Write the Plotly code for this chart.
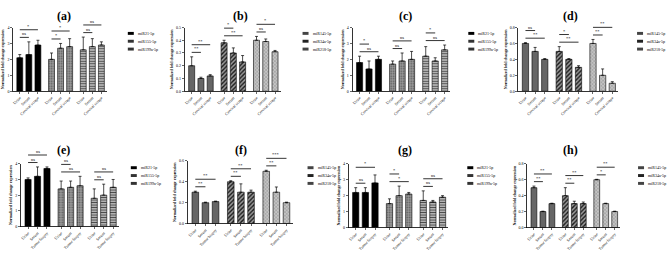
import plotly.graph_objects as go

W, H = 669, 255

# ---------------- data ----------------
mir_set_a = ["miR21-5p", "miR155-5p", "miR199a-5p"]
mir_set_b = ["miR145-5p", "miR34a-5p", "miR218-5p"]
samples_row1 = ["Urine", "Serum", "Cervical scrape"]
samples_row2 = ["Urine", "Serum", "Tumor biopsy"]

a_mean = [[2.1, 2.3, 2.9], [2.0, 2.7, 2.8], [2.6, 2.8, 2.9]]
a_err = [[0.2, 0.8, 0.3], [0.4, 0.3, 0.5], [0.8, 0.5, 0.2]]
a_sig = [[(0, 1, "ns"), (0, 2, "*")], [(0, 1, "*"), (0, 2, "*")], [(0, 1, "ns"), (0, 2, "ns")]]

b_mean = [[0.20, 0.10, 0.12], [0.38, 0.30, 0.23], [0.40, 0.39, 0.31]]
b_err = [[0.07, 0.01, 0.01], [0.02, 0.04, 0.05], [0.03, 0.02, 0.01]]
b_sig = [[(0, 1, "**"), (0, 2, "**")], [(0, 2, "**"), (0, 1, "*")], [(0, 1, "ns"), (0, 2, "*")]]

c_mean = [[1.8, 1.4, 2.0], [1.7, 1.9, 2.0], [2.2, 1.9, 2.6]]
c_err = [[0.4, 0.5, 0.2], [0.2, 0.5, 0.5], [0.6, 0.2, 0.3]]
c_sig = [[(0, 2, "ns"), (0, 1, "*")], [(0, 1, "ns"), (0, 2, "ns")], [(0, 2, "ns"), (0, 1, "*")]]

d_mean = [[0.60, 0.50, 0.40], [0.50, 0.40, 0.30], [0.60, 0.20, 0.10]]
d_err = [[0.01, 0.05, 0.01], [0.06, 0.01, 0.02], [0.05, 0.08, 0.02]]
d_sig = [[(0, 2, "**"), (0, 1, "ns")], [(0, 2, "**"), (0, 1, "*")], [(0, 1, "**"), (0, 2, "**")]]

e_mean = [[3.0, 3.2, 3.7], [2.4, 2.5, 2.6], [1.8, 2.0, 2.5]]
e_err = [[0.1, 0.6, 0.1], [0.5, 0.4, 0.6], [0.6, 0.7, 0.5]]
e_sig = [[(0, 1, "ns"), (0, 2, "ns")], [(0, 2, "ns"), (0, 1, "ns")], [(0, 1, "ns"), (0, 2, "ns")]]

f_mean = [[0.30, 0.20, 0.21], [0.40, 0.30, 0.30], [0.50, 0.30, 0.20]]
f_err = [[0.01, 0.005, 0.005], [0.01, 0.08, 0.02], [0.01, 0.05, 0.005]]
f_sig = [[(0, 1, "**"), (0, 2, "**")], [(0, 1, "**"), (0, 2, "**")], [(0, 1, "**"), (0, 2, "***")]]

g_mean = [[2.2, 2.2, 2.8], [1.5, 2.0, 2.1], [1.7, 1.6, 1.9]]
g_err = [[0.3, 0.3, 0.5], [0.3, 0.6, 0.1], [0.6, 0.1, 0.1]]
g_sig = [[(0, 1, "ns"), (0, 2, "*")], [(0, 2, "*"), (0, 1, "*")], [(0, 1, "ns"), (0, 2, "ns")]]

h_mean = [[0.50, 0.20, 0.30], [0.40, 0.30, 0.30], [0.60, 0.30, 0.20]]
h_err = [[0.02, 0.005, 0.005], [0.10, 0.03, 0.02], [0.005, 0.005, 0.005]]
h_sig = [[(0, 1, "**"), (0, 2, "**")], [(0, 1, "**"), (0, 2, "**")], [(0, 1, "*"), (0, 2, "**")]]

y_title = "Normalized fold change expression"

# ---------------- styles ----------------
style_a = [
    dict(color="#000000", pattern=None, swatch="#000000"),
    dict(color="#8a8a8a", pattern=dict(shape=".", fgcolor="#5a5a5a", bgcolor="#9a9a9a", size=2.5, solidity=0.3), swatch="#333333"),
    dict(color="#aaaaaa", pattern=dict(shape="-", fgcolor="#4a4a4a", bgcolor="#c8c8c8", size=2.5, solidity=0.45), swatch="#333333"),
]
style_b = [
    dict(color="#666666", pattern=None, swatch="#444444"),
    dict(color="#777777", pattern=dict(shape="/", fgcolor="#1a1a1a", bgcolor="#9a9a9a", size=3, solidity=0.45), swatch="#222222"),
    dict(color="#b8b8b8", pattern=dict(shape="x", fgcolor="#8a8a8a", bgcolor="#c4c4c4", size=2.5, solidity=0.3), swatch="#444444"),
]

# panel layout in pixels: (x0, x1) plot, (ytop, ybot) plot, legend x, title x
panels = [
    dict(letter="(a)", mirs=mir_set_a, samples=samples_row1, mean=a_mean, err=a_err, sig=a_sig, ymax=4, dtick=1, fmt="d", st=style_a,
         px=(12, 106), py=(25, 90), lx=127, tx=63, ly=31),
    dict(letter="(b)", mirs=mir_set_b, samples=samples_row1, mean=b_mean, err=b_err, sig=b_sig, ymax=0.5, dtick=0.1, fmt=".1f", st=style_b,
         px=(184, 280), py=(25, 90), lx=302, tx=240, ly=31),
    dict(letter="(c)", mirs=mir_set_a, samples=samples_row1, mean=c_mean, err=c_err, sig=c_sig, ymax=4, dtick=1, fmt="d", st=style_a,
         px=(352, 450), py=(25, 90), lx=468, tx=405, ly=31),
    dict(letter="(d)", mirs=mir_set_b, samples=samples_row1, mean=d_mean, err=d_err, sig=d_sig, ymax=0.8, dtick=0.2, fmt=".1f", st=style_b,
         px=(518, 618), py=(25, 90), lx=637, tx=570, ly=31),
    dict(letter="(e)", mirs=mir_set_a, samples=samples_row2, mean=e_mean, err=e_err, sig=e_sig, ymax=4, dtick=1, fmt="d", st=style_a,
         px=(20, 118), py=(164, 228), lx=130, tx=63, ly=168),
    dict(letter="(f)", mirs=mir_set_b, samples=samples_row2, mean=f_mean, err=f_err, sig=f_sig, ymax=0.6, dtick=0.2, fmt=".1f", st=style_b,
         px=(187, 292), py=(161, 225), lx=307, tx=240, ly=168),
    dict(letter="(g)", mirs=mir_set_a, samples=samples_row2, mean=g_mean, err=g_err, sig=g_sig, ymax=4, dtick=1, fmt="d", st=style_a,
         px=(348, 448), py=(164, 229), lx=467, tx=405, ly=168),
    dict(letter="(h)", mirs=mir_set_b, samples=samples_row2, mean=h_mean, err=h_err, sig=h_sig, ymax=0.8, dtick=0.2, fmt=".1f", st=style_b,
         px=(527, 620), py=(164, 229), lx=638, tx=570, ly=168),
]

FONT = "Liberation Serif"
TICK_SIZE = 4
GROUP_STEP = 3.5
BAR_W = 0.65

def pos(g, i):
    return g * GROUP_STEP + i

fig = go.Figure()
shapes = []
annotations = []
layout_axes = {}

for k, p in enumerate(panels, start=1):
    xa = "x" if k == 1 else f"x{k}"
    ya = "y" if k == 1 else f"y{k}"
    xkey = "xaxis" if k == 1 else f"xaxis{k}"
    ykey = "yaxis" if k == 1 else f"yaxis{k}"
    ymax = p["ymax"]

    tickvals, ticktext = [], []
    for g in range(3):
        xs = [pos(g, i) for i in range(3)]
        tickvals += xs
        ticktext += p["samples"]
        st = p["st"][g]
        marker = dict(color=st["color"], line=dict(color="#000000", width=0.6))
        if st["pattern"] is not None:
            marker["pattern"] = dict(fillmode="replace", **st["pattern"])
        fig.add_trace(go.Bar(
            x=xs, y=p["mean"][g], width=BAR_W, name=p["mirs"][g], showlegend=False,
            marker=marker,
            error_y=dict(type="data", symmetric=False, array=p["err"][g], arrayminus=[0, 0, 0],
                         color="#000000", thickness=0.7, width=1.5),
            xaxis=xa, yaxis=ya,
        ))

        # significance brackets
        level = 0
        for n, (i0, i1, lab) in enumerate(p["sig"][g]):
            tops = [p["mean"][g][i] + p["err"][g][i] for i in range(i0, i1 + 1)]
            if n == 0:
                level = max(tops) + 0.07 * ymax
            else:
                level = max(level, max(tops)) + 0.12 * ymax
            x0, x1 = pos(g, i0), pos(g, i1)
            shapes.append(dict(type="line", xref=xa, yref=f"{ya} domain", x0=x0, x1=x1,
                               y0=level / ymax, y1=level / ymax, line=dict(color="#000000", width=0.8)))
            annotations.append(dict(x=(x0 + x1) / 2, y=level / ymax, xref=xa, yref=f"{ya} domain",
                                    text=lab, showarrow=False, yanchor="bottom", yshift=-1,
                                    font=dict(family=FONT, size=4.5, color="#000000")))

    x0p, x1p = p["px"]
    ytop, ybot = p["py"]
    layout_axes[xkey] = dict(
        domain=[x0p / W, x1p / W], range=[-0.75, pos(2, 2) + 0.6], anchor=ya,
        tickvals=tickvals, ticktext=ticktext, tickangle=-45,
        tickfont=dict(family=FONT, size=TICK_SIZE, color="#000000"),
        ticks="outside", ticklen=2, tickwidth=0.6, tickcolor="#000000",
        showline=True, linecolor="#000000", linewidth=0.8,
        showgrid=False, zeroline=False, fixedrange=True,
    )
    layout_axes[ykey] = dict(
        domain=[1 - ybot / H, 1 - ytop / H], range=[0, ymax], anchor=xa,
        dtick=p["dtick"], tick0=0, tickformat=p["fmt"],
        tickfont=dict(family=FONT, size=TICK_SIZE, color="#000000"),
        ticks="outside", ticklen=2, tickwidth=0.6, tickcolor="#000000",
        showline=True, linecolor="#000000", linewidth=0.8,
        showgrid=False, zeroline=False, fixedrange=True,
        title=dict(text=f"<b>{y_title}</b>", font=dict(family=FONT, size=4, color="#000000"), standoff=2),
    )

    # panel title
    title_y = 13 if ytop < 100 else 150
    annotations.append(dict(x=p["tx"] / W, y=1 - title_y / H, xref="paper", yref="paper",
                            text=f"<b>{p['letter']}</b>", showarrow=False,
                            xanchor="center", yanchor="middle",
                            font=dict(family=FONT, size=12, color="#000000")))

    # legend (manual)
    for g in range(3):
        yy = p["ly"] + g * 8
        shapes.append(dict(type="rect", xref="paper", yref="paper",
                           x0=p["lx"] / W, x1=(p["lx"] + 6) / W,
                           y0=1 - (yy + 1.5) / H, y1=1 - (yy - 1.5) / H,
                           fillcolor=p["st"][g]["swatch"], line=dict(width=0)))
        annotations.append(dict(x=(p["lx"] + 8) / W, y=1 - yy / H, xref="paper", yref="paper",
                                text=p["mirs"][g], showarrow=False, xanchor="left", yanchor="middle",
                                font=dict(family=FONT, size=4, color="#000000")))

fig.update_layout(
    width=W, height=H, margin=dict(l=0, r=0, t=0, b=0),
    paper_bgcolor="#ffffff", plot_bgcolor="#ffffff",
    showlegend=False, bargap=0, shapes=shapes, annotations=annotations,
    font=dict(family=FONT, size=5, color="#000000"),
    hovermode=False,
    **layout_axes,
)

fig.write_html(
    "out.html",
    config={"displayModeBar": False, "staticPlot": True},
    post_script="document.body.style.margin='0';document.body.style.padding='0';document.body.style.overflow='hidden';",
)
